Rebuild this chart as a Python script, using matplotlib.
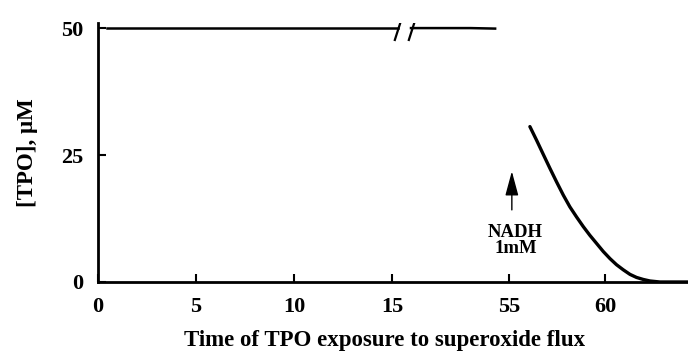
import numpy as np
import matplotlib
matplotlib.use('Agg')
import matplotlib.pyplot as plt

# flat trace before NADH (two segments either side of the axis break)
pre_t1 = [0.46, 3.0, 6.0, 9.0, 12.0, 15.3]
pre_c1 = [50.0, 50.0, 50.0, 50.0, 50.0, 50.0]
pre_t2 = [49.9, 51.5, 53.0, 54.28]
pre_c2 = [50.0, 50.0, 50.0, 49.9]

# decay after NADH addition
post_t = [56.09, 56.44, 56.79, 57.13, 57.48, 57.83, 58.17, 58.52, 58.87,
          59.21, 59.56, 59.91, 60.26, 60.60, 60.95, 61.30, 61.64, 61.99,
          62.34, 62.86, 64.32]
post_c = [30.6, 27.9, 25.1, 22.4, 19.7, 17.1, 14.8, 12.8, 10.9,
          9.2, 7.6, 6.0, 4.6, 3.4, 2.4, 1.5, 0.9, 0.5,
          0.2, 0.0, 0.0]

xticks = [0, 5, 10, 15, 55, 60]
yticks = [0, 25, 50]

# broken x axis: 15.5..49.85 squeezed into a small gap,
# the part after the break runs slightly tighter
b0, b1 = 15.5, 49.85
c1 = 15.92
k = 0.98

def fwd(x):
    x = np.asarray(x, dtype=float)
    return np.where(x <= b0, x,
                    np.where(x <= b1, b0 + (x - b0) * (c1 - b0) / (b1 - b0),
                             c1 + (x - b1) * k))

def inv(y):
    y = np.asarray(y, dtype=float)
    return np.where(y <= b0, y,
                    np.where(y <= c1, b0 + (y - b0) * (b1 - b0) / (c1 - b0),
                             b1 + (y - c1) / k))

plt.rcParams['font.family'] = ['Liberation Serif', 'DejaVu Serif']
plt.rcParams['font.weight'] = 'bold'

fig = plt.figure(figsize=(6.88, 3.54), dpi=100)
ax = fig.add_axes([0.1424, 0.2034, 0.8576, 0.7316])
ax.set_xscale('function', functions=(fwd, inv))

ax.plot(pre_t1, pre_c1, color='black', lw=1.8)
ax.plot(pre_t2, pre_c2, color='black', lw=1.8)
ax.plot(post_t, post_c, color='black', lw=2.4, solid_capstyle='round',
        solid_joinstyle='round')

# break marks
slash = [(-0.32, -1), (0.32, 1)]
ax.plot([15.3, 49.95], [50.0, 50.0], ls='none', marker=slash, ms=18,
        mew=1.6, color='black')

# NADH arrow
ax.annotate('', xy=(55.15, 21.8), xytext=(55.15, 14.2),
            arrowprops=dict(arrowstyle='-|>,head_length=1.0,head_width=0.27',
                            color='black', lw=1.0, mutation_scale=15,
                            shrinkA=0, shrinkB=0))
ax.text(55.34, 11.4, 'NADH\n1mM', ha='center', va='top', fontsize=13.5,
        fontweight='bold', linespacing=0.95)

ax.set_xlim(0, 64.32)
ax.set_ylim(0, 51.0)
ax.set_xticks(xticks)
ax.set_yticks(yticks)
ax.tick_params(direction='in', length=6, width=1.5, labelsize=16, pad=10.5)

for s in ['top', 'right']:
    ax.spines[s].set_visible(False)
for s in ['left', 'bottom']:
    ax.spines[s].set_linewidth(2.0)

ax.set_xlabel('Time of TPO exposure to superoxide flux', fontsize=16.5,
              fontweight='bold')
ax.xaxis.set_label_coords(0.486, -0.185)
ax.set_ylabel('[TPO], \u03bcM', fontsize=16.5, fontweight='bold', labelpad=17)

plt.savefig('out.png', dpi=100)
